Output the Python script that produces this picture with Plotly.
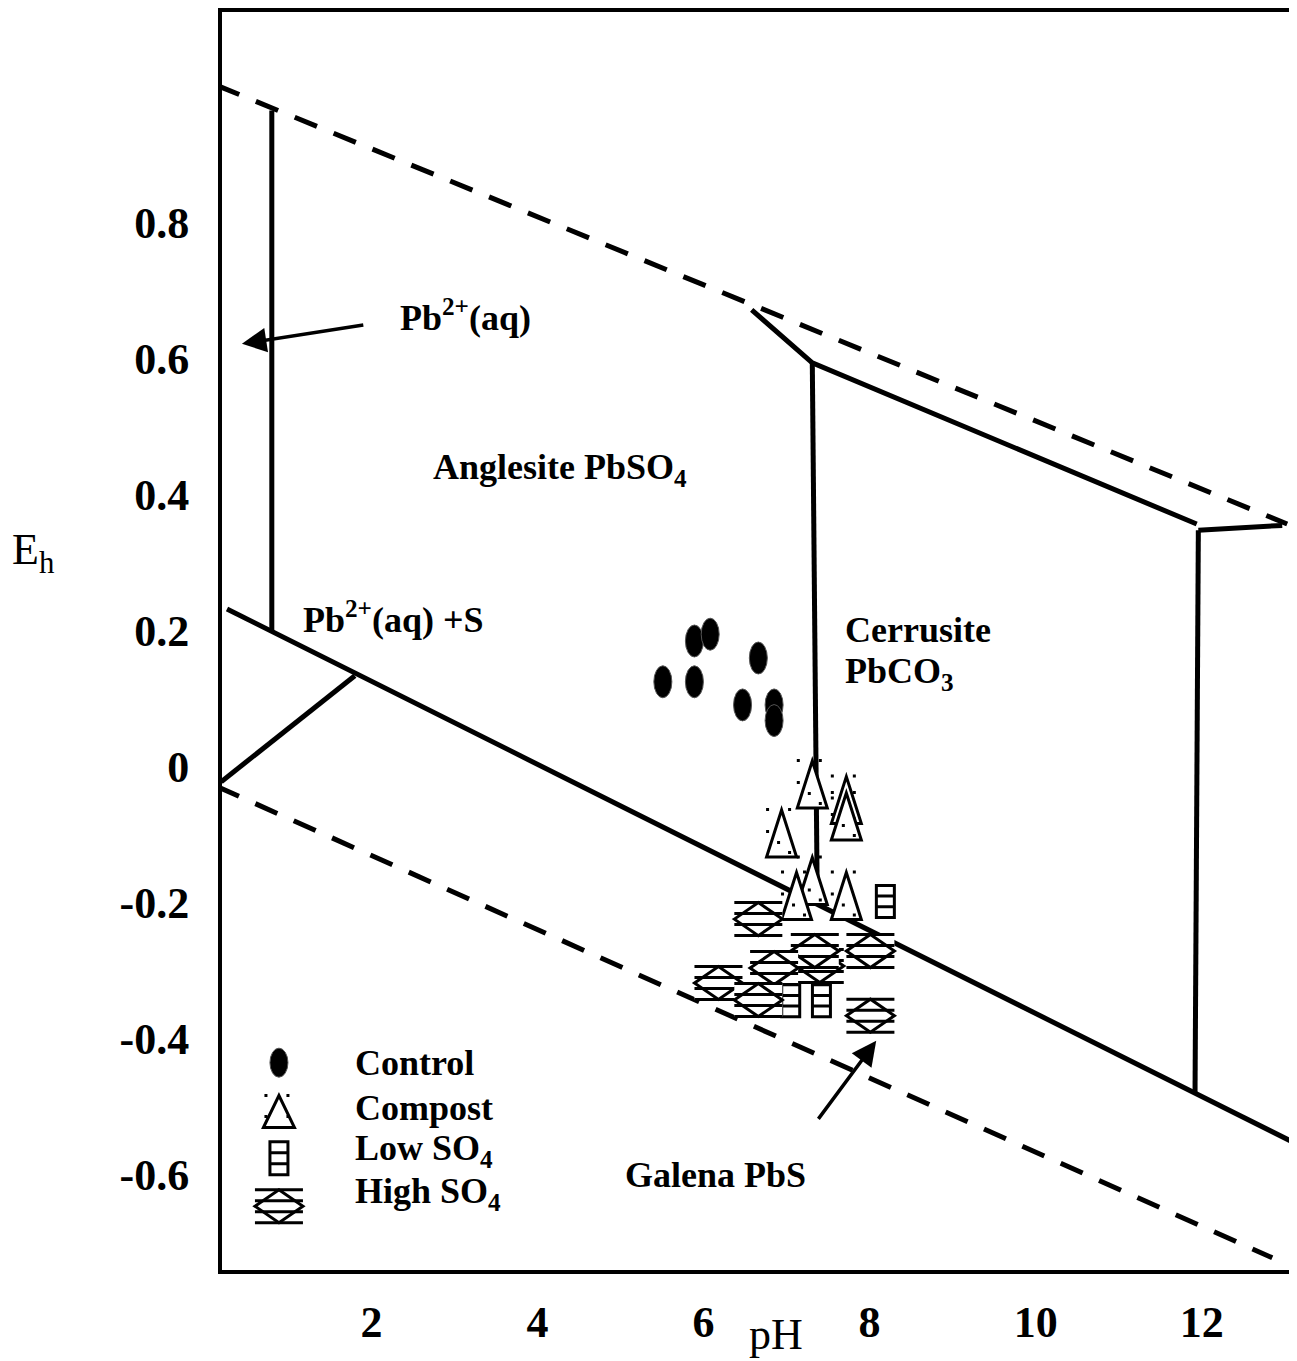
import plotly.graph_objects as go

# ---------------- data (pH, Eh) ----------------
control_ph = [5.51, 5.89, 5.89, 6.08, 6.66, 6.47, 6.85, 6.85]
control_eh = [0.125, 0.125, 0.185, 0.195, 0.160, 0.091, 0.091, 0.068]

compost_ph = [7.31, 6.94, 7.72, 7.72, 7.31, 7.12, 7.72]
compost_eh = [-0.026, -0.098, -0.049, -0.073, -0.168, -0.190, -0.190]

lowso4_ph = [8.19, 7.05, 7.42]
lowso4_eh = [-0.198, -0.344, -0.344]

highso4_ph = [6.66, 7.40, 7.34, 8.01, 6.85, 6.18, 6.66, 8.01]
highso4_eh = [-0.224, -0.293, -0.271, -0.271, -0.296, -0.318, -0.343, -0.366]

# stability-field boundaries
water_upper_ph = [0.14, 13.03]
water_upper_eh = [1.002, 0.357]
water_lower_ph = [0.14, 12.85]
water_lower_eh = [-0.029, -0.722]
galena_ph = [0.26, 13.10]
galena_eh = [0.232, -0.552]
pbaq_ph = [0.80, 0.80]
pbaq_eh = [0.965, 0.198]
pbs_ph = [0.19, 1.80]
pbs_eh = [-0.022, 0.134]
cer_top_ph = [6.58, 7.31, 11.94]
cer_top_eh = [0.672, 0.594, 0.357]
cer_left_ph = [7.31, 7.37]
cer_left_eh = [0.594, -0.200]
cer_right_ph = [11.96, 11.92]
cer_right_eh = [0.348, -0.480]
cer_short_ph = [11.96, 12.97]
cer_short_eh = [0.348, 0.355]

x_ticks = [2, 4, 6, 8, 10, 12]
x_ticktext = ["2", "4", "6", "8", "10", "12"]
y_ticks = [0.8, 0.6, 0.4, 0.2, 0, -0.2, -0.4, -0.6]
y_ticktext = ["0.8", "0.6", "0.4", "0.2", "0", "-0.2", "-0.4", "-0.6"]

FONT = "Liberation Serif, Times New Roman, serif"

fig = go.Figure()

def add_line(xs, ys, dash="solid", width=5):
    fig.add_trace(go.Scatter(x=xs, y=ys, mode="lines",
                             line=dict(color="black", width=width, dash=dash),
                             hoverinfo="skip", showlegend=False))

add_line(water_upper_ph, water_upper_eh, dash="24px,18px")
add_line(water_lower_ph, water_lower_eh, dash="24px,18px")
add_line(galena_ph, galena_eh)
add_line(pbaq_ph, pbaq_eh)
add_line(pbs_ph, pbs_eh)
add_line(cer_top_ph, cer_top_eh)
add_line(cer_left_ph, cer_left_eh)
add_line(cer_right_ph, cer_right_eh)
add_line(cer_short_ph, cer_short_eh)

shapes = []

def pix(xa, ya, ref="data", **kw):
    d = dict(xsizemode="pixel", ysizemode="pixel", xanchor=xa, yanchor=ya,
             xref="x" if ref == "data" else "paper",
             yref="y" if ref == "data" else "paper", layer="above")
    d.update(kw)
    return d

def ellipse(xa, ya, ref="data", w=18, h=32):
    shapes.append(pix(xa, ya, ref, type="circle", x0=-w / 2, x1=w / 2, y0=-h / 2, y1=h / 2,
                      fillcolor="black", line=dict(color="#555", width=1)))

def dots_path(pts, s=3):
    p = ""
    for dx, dy in pts:
        p += f"M{dx-s/2},{dy-s/2}L{dx+s/2},{dy-s/2}L{dx+s/2},{dy+s/2}L{dx-s/2},{dy+s/2}Z"
    return p

def triangle(xa, ya, ref="data", w=30, h=47, dots=None):
    shapes.append(pix(xa, ya, ref, type="path",
                      path=f"M{-w/2},{-h/2}L0,{h/2}L{w/2},{-h/2}Z",
                      fillcolor="white", line=dict(color="black", width=3)))
    if dots:
        shapes.append(pix(xa, ya, ref, type="path", path=dots_path(dots),
                          fillcolor="black", line=dict(width=0)))

def box(xa, ya, ref="data", w=18, h=32):
    shapes.append(pix(xa, ya, ref, type="rect", x0=-w / 2, x1=w / 2, y0=-h / 2, y1=h / 2,
                      fillcolor="white", line=dict(color="black", width=3)))
    t = h / 6
    shapes.append(pix(xa, ya, ref, type="path",
                      path=f"M{-w/2},{t}L{w/2},{t}M{-w/2},{-t}L{w/2},{-t}",
                      line=dict(color="black", width=3)))

def diamond(xa, ya, ref="data", w=48, h=33):
    shapes.append(pix(xa, ya, ref, type="rect", x0=-w / 2, x1=w / 2, y0=-h / 2, y1=h / 2,
                      fillcolor="white", line=dict(width=0)))
    shapes.append(pix(xa, ya, ref, type="path",
                      path=f"M{-w/2},0L0,{h/2}L{w/2},0L0,{-h/2}Z",
                      line=dict(color="black", width=3)))
    p = ""
    for yy in (h / 2, 5.5, -5.5, -h / 2):
        p += f"M{-w/2},{yy}L{w/2},{yy}"
    shapes.append(pix(xa, ya, ref, type="path", path=p,
                      line=dict(color="black", width=3)))

tri_dots = [(-14, 24), (8, 24), (-14, 2), (-3, -9), (8, -19)]

for x, y in zip(control_ph, control_eh):
    ellipse(x, y)
for x, y in zip(compost_ph, compost_eh):
    triangle(x, y, dots=tri_dots)
for x, y in zip(lowso4_ph, lowso4_eh):
    box(x, y)
for x, y in zip(highso4_ph, highso4_eh):
    diamond(x, y)

# ---------------- legend (paper coords; page pixels -> paper) ----------------
X0, Y0, W, H = 222, 8, 1072, 1262
def px2paper(px, py):
    return (px - X0) / W, (Y0 + H - py) / H

lx, _ = px2paper(279, 0)
_, ly1 = px2paper(0, 1062)
_, ly2 = px2paper(0, 1111)
_, ly3 = px2paper(0, 1158)
_, ly4 = px2paper(0, 1206)
ellipse(lx, ly1, ref="paper", w=18, h=29)
triangle(lx, ly2, ref="paper", w=31, h=32, dots=[(-13, 16), (9, 16), (-13, -5), (9, -5)])
box(lx, ly3, ref="paper", w=18, h=33)
diamond(lx, ly4, ref="paper", w=48, h=33)

annotations = []
tx, _ = px2paper(353, 0)
for label, py in [("Control", 1062), ("Compost", 1107), ("Low SO<sub>4</sub>", 1150),
                  ("High SO<sub>4</sub>", 1193)]:
    _, yy = px2paper(0, py)
    annotations.append(dict(x=tx, y=yy, xref="paper", yref="paper", xanchor="left",
                            yanchor="middle", showarrow=False, text=f"<b>{label}</b>",
                            font=dict(family=FONT, size=36, color="black")))

def label(x, y, text):
    annotations.append(dict(x=x, y=y, xref="x", yref="y", xanchor="left", yanchor="middle",
                            showarrow=False, text=f"<b>{text}</b>",
                            font=dict(family=FONT, size=36, color="black")))

label(2.32, 0.664, "Pb<sup>2+</sup>(aq)")
label(2.72, 0.437, "Anglesite PbSO<sub>4</sub>")
label(1.15, 0.220, "Pb<sup>2+</sup>(aq) +S")
label(7.68, 0.201, "Cerrusite")
label(7.68, 0.137, "PbCO<sub>3</sub>")
label(5.03, -0.601, "Galena PbS")

def arrow(x, y, ax, ay):
    annotations.append(dict(x=x, y=y, ax=ax, ay=ay, xref="x", yref="y", axref="x", ayref="y",
                            text="", showarrow=True, arrowhead=2, arrowsize=1.4,
                            arrowwidth=3.5, arrowcolor="black", standoff=0))

arrow(0.44, 0.622, 1.92, 0.650)
arrow(8.08, -0.403, 7.37, -0.520)

# axis titles
annotations.append(dict(x=6.87, y=0, xref="x", yref="paper", yanchor="top", yshift=-38,
                        showarrow=False, text="pH",
                        font=dict(family=FONT, size=44, color="black")))
_, eh_y = px2paper(0, 550)
annotations.append(dict(x=0, y=eh_y, xref="paper", yref="paper", xanchor="center",
                        yanchor="middle", xshift=-189, showarrow=False, text="E<sub>h</sub>",
                        font=dict(family=FONT, size=44, color="black")))

axis_common = dict(showline=True, linewidth=4, linecolor="black", mirror=True,
                   showgrid=False, zeroline=False, ticks="outside",
                   tickcolor="rgba(0,0,0,0)",
                   tickfont=dict(family=FONT, size=44, color="black", weight="bold"))

# page has an 8px body margin: figure is sized/margined to land on the reference pixels
fig.update_layout(
    width=1289, height=1353,
    margin=dict(l=214, r=3, t=0, b=91),
    paper_bgcolor="white", plot_bgcolor="white",
    showlegend=False,
    xaxis=dict(range=[0.2, 13.1], tickvals=x_ticks, ticktext=x_ticktext, ticklen=10,
               **axis_common),
    yaxis=dict(range=[-0.74, 1.11], tickvals=y_ticks, ticktext=y_ticktext, ticklen=20,
               **axis_common),
    shapes=shapes,
    annotations=annotations,
)

fig.write_html("out.html")
